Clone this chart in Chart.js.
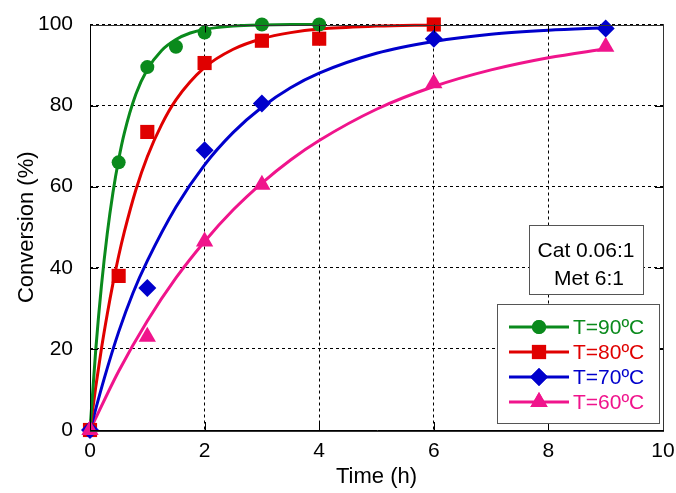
<!DOCTYPE html>
<html><head><meta charset="utf-8">
<script src="https://cdn.jsdelivr.net/npm/chart.js@4/dist/chart.umd.min.js"></script>
<style>html,body{margin:0;padding:0;background:#fff}#wrap{width:676px;height:493px;position:relative}</style>
</head><body><div id="wrap"><canvas id="c" width="676" height="493"></canvas></div>
<script>
const seriesLabels = ['T=90ºC', 'T=80ºC', 'T=70ºC', 'T=60ºC'];
const seriesColors = ['#0a8a1c', '#e00000', '#0000cc', '#f0148c'];
const seriesMarkers = ['circle', 'rect', 'rectRot', 'triangle'];
const infoLines = ['Cat 0.06:1', 'Met 6:1'];
const xTickLabels = [0, 2, 4, 6, 8, 10];
const yTickLabels = [0, 20, 40, 60, 80, 100];

// measured points
const t90 = [0, 0.5, 1, 1.5, 2, 3, 4];
const x90 = [0, 66, 89.5, 94.5, 98, 100, 100];
const t80 = [0, 0.5, 1, 2, 3, 4, 6];
const x80 = [0, 38, 73.5, 90.5, 96, 96.5, 100];
const t70 = [0, 1, 2, 3, 6, 9];
const x70 = [0, 35, 69, 80.5, 96.5, 99];
const t60 = [0, 1, 2, 3, 6, 9];
const x60 = [0, 23, 46.5, 60.5, 85.5, 94.5];

// fitted curves
const fitT90 = [0, 0.1, 0.2, 0.3, 0.4, 0.5, 0.6, 0.8, 1, 1.25, 1.5, 1.75, 2, 2.5, 3, 3.5, 4];
const fitX90 = [0, 19.7, 35.6, 48.3, 58.5, 66.7, 73.3, 82.8, 88.9, 93.6, 96.3, 97.9, 98.8, 99.6, 99.9, 100, 100];
const fitT80 = [0, 0.1, 0.2, 0.3, 0.4, 0.5, 0.6, 0.8, 1, 1.25, 1.5, 2, 2.5, 3, 3.5, 4, 5, 6];
const fitX80 = [0, 10.6, 20.1, 28.5, 36.1, 42.9, 48.9, 59.2, 67.4, 75.3, 81.4, 89.4, 93.9, 96.5, 98.0, 98.9, 99.6, 99.9];
const fitT70 = [0, 0.25, 0.5, 0.75, 1, 1.5, 2, 2.5, 3, 3.5, 4, 5, 6, 7, 8, 9];
const fitX70 = [0, 12.8, 24.2, 33.8, 41.7, 55.0, 65.4, 73.4, 79.6, 84.4, 88.0, 92.9, 95.8, 97.6, 98.6, 99.2];
const fitT60 = [0, 0.5, 1, 1.5, 2, 2.5, 3, 3.5, 4, 5, 6, 7, 8, 9];
const fitX60 = [0, 14.5, 26.9, 37.5, 46.5, 54.3, 60.9, 66.6, 71.4, 79.1, 84.7, 88.8, 91.8, 94.0];

const pts = [[t90, x90], [t80, x80], [t70, x70], [t60, x60]];
const fits = [[fitT90, fitX90], [fitT80, fitX80], [fitT70, fitX70], [fitT60, fitX60]];
const markerRadius = [7, 10, 9, 10];

const zip = (a, b) => a.map((v, i) => ({x: v, y: b[i]}));
const datasets = [];
fits.forEach((f, i) => {
  datasets.push({
    type: 'line', label: seriesLabels[i] + ' fit', data: zip(f[0], f[1]),
    borderColor: seriesColors[i], borderWidth: 3, pointRadius: 0,
    cubicInterpolationMode: 'monotone', fill: false, order: 10 + i, clip: false
  });
});
pts.forEach((p, i) => {
  datasets.push({
    type: 'scatter', label: seriesLabels[i], data: zip(p[0], p[1]),
    showLine: false, pointStyle: seriesMarkers[i], pointRadius: markerRadius[i],
    pointBackgroundColor: seriesColors[i], pointBorderColor: seriesColors[i], pointBorderWidth: 0,
    order: 3 - i, clip: false
  });
});

const FONT = "'Liberation Sans', Arial, sans-serif";

const decor = {
  id: 'decor',
  afterDraw(chart) {
    const ctx = chart.ctx, ca = chart.chartArea;
    const xs = chart.scales.x, ys = chart.scales.y;
    ctx.save();
    // inward tick marks
    ctx.strokeStyle = '#000'; ctx.lineWidth = 1; ctx.setLineDash([]);
    const tl = 8;
    xTickLabels.forEach(v => {
      const px = Math.round(xs.getPixelForValue(v)) + 0.5;
      ctx.beginPath(); ctx.moveTo(px, ca.bottom); ctx.lineTo(px, ca.bottom - tl); ctx.stroke();
      ctx.beginPath(); ctx.moveTo(px, ca.top); ctx.lineTo(px, ca.top + tl); ctx.stroke();
    });
    yTickLabels.forEach(v => {
      const py = Math.round(ys.getPixelForValue(v)) + 0.5;
      ctx.beginPath(); ctx.moveTo(ca.left, py); ctx.lineTo(ca.left + tl, py); ctx.stroke();
      ctx.beginPath(); ctx.moveTo(ca.right, py); ctx.lineTo(ca.right - tl, py); ctx.stroke();
    });
    // frame
    ctx.strokeStyle = '#333';
    ctx.strokeRect(Math.round(ca.left) + 0.5, Math.round(ca.top) + 0.5, Math.round(ca.right - ca.left), Math.round(ca.bottom - ca.top));
    ctx.strokeStyle = '#000';
    ctx.beginPath();
    ctx.moveTo(Math.round(ca.left) + 0.5, Math.round(ca.top));
    ctx.lineTo(Math.round(ca.left) + 0.5, Math.round(ca.bottom) + 0.5);
    ctx.lineTo(Math.round(ca.right) + 1, Math.round(ca.bottom) + 0.5);
    ctx.stroke();

    // info box
    ctx.fillStyle = '#fff';
    ctx.fillRect(529, 225, 114, 69);
    ctx.strokeStyle = '#555';
    ctx.strokeRect(529.5, 225.5, 114, 69);
    ctx.fillStyle = '#000';
    ctx.font = '21px ' + FONT;
    ctx.textAlign = 'center'; ctx.textBaseline = 'middle';
    ctx.fillText(infoLines[0], 586, 251);
    ctx.fillText(infoLines[1], 589, 279);

    // legend box
    ctx.fillStyle = '#fff';
    ctx.fillRect(497, 304, 162, 119);
    ctx.strokeStyle = '#555';
    ctx.strokeRect(497.5, 304.5, 162, 119);
    const rowsY = [327, 352, 377, 402];
    seriesLabels.forEach((lab, i) => {
      const y = rowsY[i];
      ctx.strokeStyle = seriesColors[i]; ctx.lineWidth = 3;
      ctx.beginPath(); ctx.moveTo(509, y); ctx.lineTo(569, y); ctx.stroke();
      ctx.fillStyle = seriesColors[i];
      Chart.helpers.drawPoint(ctx, {pointStyle: seriesMarkers[i], radius: markerRadius[i], borderWidth: 0}, 539, y);
      ctx.fill();
      ctx.fillStyle = seriesColors[i];
      ctx.font = '21px ' + FONT;
      ctx.textAlign = 'left'; ctx.textBaseline = 'middle';
      ctx.fillText(lab, 573, y + 1);
    });
    ctx.restore();
  }
};

new Chart(document.getElementById('c'), {
  data: {datasets},
  options: {
    responsive: false, animation: false, devicePixelRatio: 1,
    layout: {padding: {left: 0, top: 24.5, right: 13, bottom: 0}},
    plugins: {legend: {display: false}, tooltip: {enabled: false}},
    scales: {
      x: {
        type: 'linear', min: 0, max: 10,
        afterBuildTicks: s => { s.ticks = xTickLabels.map(v => ({value: v})); },
        afterFit: s => { s.height = 63; s.paddingLeft = 0; s.paddingRight = 0; },
        ticks: {color: '#000', font: {family: FONT, size: 21}, padding: 9, maxRotation: 0},
        grid: {color: '#000', lineWidth: 1, drawTicks: false},
        border: {display: false, dash: [3, 3]},
        title: {display: true, text: 'Time (h)', color: '#000', font: {family: FONT, size: 22}, padding: {top: 2, bottom: 3}}
      },
      y: {
        type: 'linear', min: 0, max: 100,
        afterBuildTicks: s => { s.ticks = yTickLabels.map(v => ({value: v})); },
        afterFit: s => { s.width = 90; s.paddingTop = 0; s.paddingBottom = 0; },
        ticks: {color: '#000', font: {family: FONT, size: 21}, padding: 17},
        grid: {color: '#000', lineWidth: 1, drawTicks: false},
        border: {display: false, dash: [3, 3]},
        title: {display: true, text: 'Conversion (%)', color: '#000', font: {family: FONT, size: 22}, padding: {top: 14, bottom: 0}}
      }
    }
  },
  plugins: [decor]
});
</script></body></html>
